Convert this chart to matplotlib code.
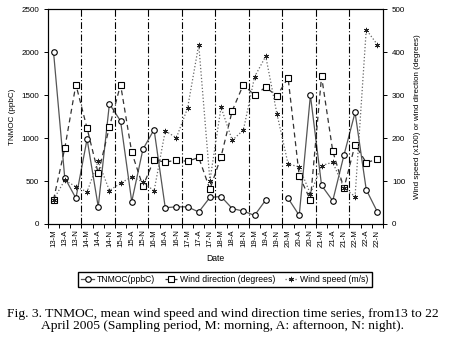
import numpy as np
import matplotlib.pyplot as plt

days = ['13', '14', '15', '16', '17', '18', '19', '20', '21', '22']
periods = ['M', 'A', 'N']
labels = [d + '-' + p for d in days for p in periods]

# TNMOC (ppbC), left axis; 19-N missing
tnmoc = [2000, 540, 300, 990, 200, 1400, 1200, 260, 870, 1100,
         190, 200, 200, 140, 310, 320, 180, 150, 100, 280,
         np.nan, 300, 100, 1500, 450, 270, 800, 1300, 400, 140]
# wind direction (degrees), right axis
wdir = [57, 176, 325, 223, 118, 226, 325, 167, 88, 150,
        144, 149, 146, 155, 81, 157, 264, 325, 300, 319,
        298, 341, 112, 56, 344, 170, 83, 185, 143, 151]
# wind speed (m/s x100), right axis
wspd = [57, 102, 87, 75, 146, 78, 95, 110, 98, 77,
        217, 201, 270, 418, 101, 272, 195, 219, 343, 391,
        257, 140, 133, 70, 136, 144, 84, 64, 453, 418]

plt.rcParams['font.family'] = 'Liberation Sans'
fig = plt.figure(figsize=(4.51, 3.5), dpi=100)
ax = fig.add_axes([0.1064, 0.36, 0.7428, 0.613])
ax2 = ax.twinx()
x = np.arange(len(labels))

l1, = ax.plot(x, tnmoc, '-', color='#555555', lw=0.9, marker='o', ms=4,
              mfc='white', mec='black', mew=0.8, label='TNMOC(ppbC)')
l2, = ax2.plot(x, wdir, '--', color='#333333', lw=0.9, dashes=(4, 3), marker='s', ms=4.5,
               mfc='white', mec='black', mew=0.8, label='Wind direction (degrees)')
l3, = ax2.plot(x, wspd, ':', color='#666666', lw=0.9, marker=(6, 2, 0), ms=3.8,
               mec='#222222', mew=0.6, label='Wind speed (m/s)')

for b in np.arange(2.5, 29, 3):
    ax.axvline(b, color='black', lw=0.8, ls=(0, (6, 2, 1, 2)))

ax.set_xlim(-0.5, 29.5)
ax.set_ylim(0, 2500)
ax2.set_ylim(0, 500)
ax.set_yticks([0, 500, 1000, 1500, 2000, 2500])
ax2.set_yticks([0, 100, 200, 300, 400, 500])
ax.set_xticks(x)
ax.set_xticklabels(labels, rotation=90, fontsize=5.6)
ax.set_xticks(np.arange(-0.5, 30, 1), minor=True)
ax.tick_params(axis='x', which='major', length=0, pad=4)
ax.tick_params(axis='x', which='minor', length=3, width=0.7, direction='out')
ax.tick_params(axis='y', labelsize=5.8, length=3, width=0.7)
ax2.tick_params(axis='y', labelsize=5.8, length=3, width=0.7)
for a in (ax, ax2):
    for s in a.spines.values():
        s.set_linewidth(0.8)

ax.set_ylabel('TNMOC (ppbC)', fontsize=5.8, labelpad=4)
ax2.set_ylabel('Wind speed (x100) or wind direction (degrees)', fontsize=5.8, labelpad=6)
ax.set_xlabel('Date', fontsize=6.2, labelpad=5)

fig.legend(handles=[l1, l2, l3], loc='center', bbox_to_anchor=(0.499, 0.202), ncol=3,
           fontsize=6.2, frameon=True, fancybox=False, edgecolor='black', framealpha=1,
           handlelength=1.5, handletextpad=0.3, columnspacing=1.1, borderpad=0.35,
           borderaxespad=0)

fig.text(0.494, 0.087, 'Fig. 3. TNMOC, mean wind speed and wind direction time series, from13 to 22\n'
         'April 2005 (Sampling period, M: morning, A: afternoon, N: night).',
         ha='center', va='center', family='Liberation Serif', fontsize=9.7, linespacing=1.0)

fig.savefig('out.png', dpi=100)
